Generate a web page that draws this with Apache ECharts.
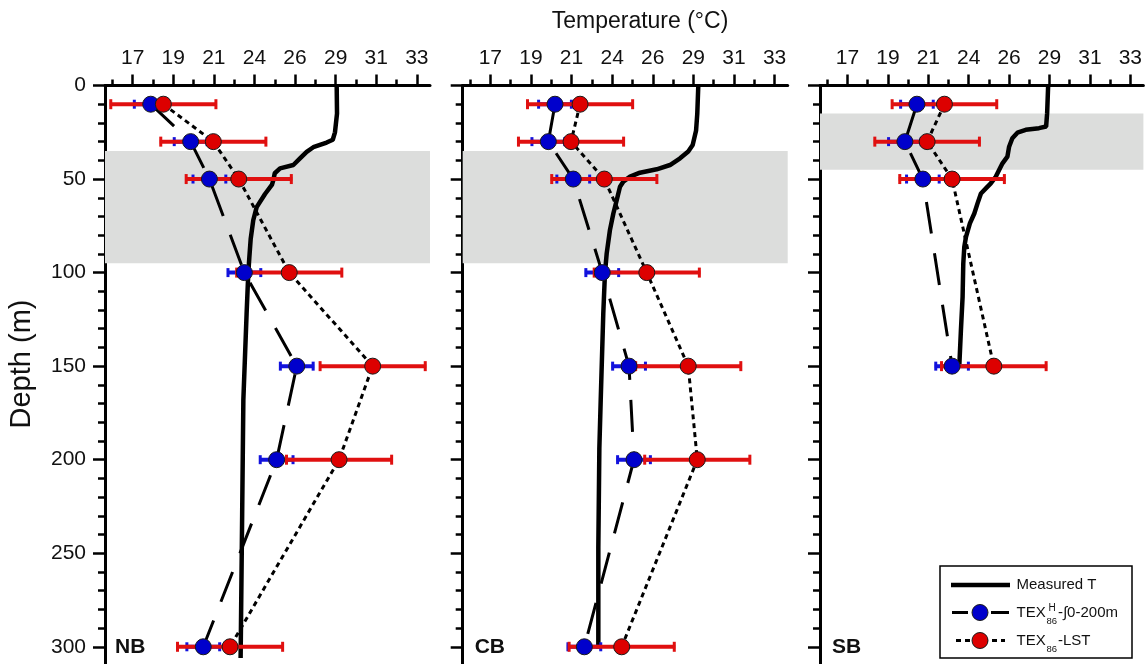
<!DOCTYPE html>
<html><head><meta charset="utf-8">
<script src="https://cdn.jsdelivr.net/npm/echarts@6/dist/echarts.min.js"></script>
<style>html,body{margin:0;padding:0;background:#fff}#c{width:1145px;height:664px}</style>
</head><body><div id="c"></div>
<script>
// ---------------- data ----------------
const depthsFull = [10, 30, 50, 100, 150, 200, 300];
const depthsSB = [10, 30, 50, 150];

const nbTexH = [17.72, 20.06, 21.16, 23.21, 26.28, 25.10, 20.80];
const nbTexHErr = [1.02, 1.02, 1.02, 1.02, 1.02, 1.02, 1.02];
const nbLst = [18.46, 21.39, 22.88, 25.84, 30.73, 28.76, 22.37];
const nbLstErr = [3.14, 3.14, 3.14, 3.14, 3.14, 3.14, 3.14];

const cbTexH = [20.45, 20.06, 21.52, 23.22, 24.79, 25.08, 22.17];
const cbTexHErr = [1.02, 1.02, 1.02, 1.02, 1.02, 1.02, 1.02];
const cbLst = [21.92, 21.39, 23.34, 25.83, 28.26, 28.79, 24.36];
const cbLstErr = [3.14, 3.14, 3.14, 3.14, 3.14, 3.14, 3.14];

const sbTexH = [20.75, 20.04, 21.10, 22.82];
const sbTexHErr = [1.02, 1.02, 1.02, 1.02];
const sbLst = [22.37, 21.35, 22.82, 25.28];
const sbLstErr = [3.14, 3.14, 3.14, 3.14];

// measured temperature profiles: [temperature, depth]
const nbMeasured = [[28.62,0],[28.64,15],[28.52,25],[28.39,29],[28.03,30.5],[27.25,33],[26.86,35.5],[26.47,39],[26.08,42.5],[25.30,44.3],[24.99,46.9],[24.91,50.5],[24.83,53],[24.42,58],[23.93,65],[23.73,72],[23.58,82],[23.50,92],[23.44,100],[23.34,122],[23.15,168],[23.08,229],[22.99,306]];
const cbMeasured = [[28.85,0],[28.79,15],[28.72,24],[28.52,31.8],[28.26,35.3],[27.78,38.9],[27.19,42.5],[26.41,44.8],[25.43,46.6],[24.85,48.7],[24.45,51.4],[24.26,54.1],[24.07,61.2],[23.87,68.4],[23.67,77.3],[23.48,89.8],[23.38,100],[23.28,122],[23.13,168],[23.05,194],[22.99,247],[22.99,301]];
const sbMeasured = [[28.48,0],[28.42,14.8],[28.36,21.9],[27.94,22.8],[27.16,23.7],[26.67,25.2],[26.37,28.2],[26.18,32.7],[26.08,38],[25.79,41.6],[25.59,45.2],[25.40,48.7],[25.10,52.3],[24.81,55],[24.52,57.7],[24.32,63],[24.13,68.4],[23.87,73.7],[23.64,80.9],[23.54,86.2],[23.48,95.2],[23.44,113],[23.34,131],[23.25,149]];

// shaded depth bands [top, bottom]
const nbBand = [35, 95];
const cbBand = [35, 95];
const sbBand = [15, 45];

// axis ticks
const xTickValues = [16.66, 19.04, 21.42, 23.80, 26.18, 28.56, 30.94, 33.32];
const xTickLabels = ['17', '19', '21', '24', '26', '29', '31', '33'];
const xMinorTickValues = [15.47, 17.85, 20.23, 22.61, 24.99, 27.37, 29.75, 32.13];
const yTickValues = [0, 50, 100, 150, 200, 250, 300];
const yTickLabels = ['0', '50', '100', '150', '200', '250', '300'];
const yMinorTickValues = [10, 20, 30, 40, 60, 70, 80, 90, 110, 120, 130, 140, 160, 170, 180, 190, 210, 220, 230, 240, 260, 270, 280, 290];
const panelNames = ['NB', 'CB', 'SB'];
const seriesNames = ['Measured T', 'TEX86H-∫0-200m', 'TEX86-LST'];

// ---------------- layout / style ----------------
const X_MIN = 15.04, X_MAX = 34.09;
const Y_MIN = 0, Y_MAX = 309.2;
const FONT = '"Liberation Sans", Arial, Helvetica, sans-serif';
const panelLeft = [105, 462.7, 820];
const PANEL_W = 325, PANEL_TOP = 85.5;
const BLUE = '#0000cc', RED = '#dd0000', BLUE_BAR = '#1212dd', RED_BAR = '#e01010', BAND = '#dcdddc';

const panels = [
  {band: nbBand, measured: nbMeasured, depths: depthsFull, texH: nbTexH, texHErr: nbTexHErr, lst: nbLst, lstErr: nbLstErr},
  {band: cbBand, measured: cbMeasured, depths: depthsFull, texH: cbTexH, texHErr: cbTexHErr, lst: cbLst, lstErr: cbLstErr},
  {band: sbBand, measured: sbMeasured, depths: depthsSB, texH: sbTexH, texHErr: sbTexHErr, lst: sbLst, lstErr: sbLstErr}
];

function nearestLabel(values, labels, v) {
  let best = 0, bd = Infinity;
  values.forEach((t, i) => { const d = Math.abs(t - v); if (d < bd) { bd = d; best = i; } });
  return labels[best];
}

function errRender(color, capH, lw) {
  return function (params, api) {
    const x = api.value(0), y = api.value(1), e = api.value(2);
    const p0 = api.coord([x - e, y]), p1 = api.coord([x + e, y]);
    return {
      type: 'group',
      children: [
        {type: 'line', shape: {x1: p0[0], y1: p0[1], x2: p1[0], y2: p1[1]}, style: {stroke: color, lineWidth: lw}},
        {type: 'line', shape: {x1: p0[0] + 1, y1: p0[1] - capH / 2, x2: p0[0] + 1, y2: p0[1] + capH / 2}, style: {stroke: color, lineWidth: 3}},
        {type: 'line', shape: {x1: p1[0] - 1, y1: p1[1] - capH / 2, x2: p1[0] - 1, y2: p1[1] + capH / 2}, style: {stroke: color, lineWidth: 3}}
      ]
    };
  };
}

function bandRender(params, api) {
  const cs = params.coordSys;
  const y0 = api.coord([api.value(0), api.value(1)])[1];
  const y1 = api.coord([api.value(0), api.value(2)])[1];
  return {type: 'rect', shape: {x: cs.x, y: y0, width: cs.width, height: y1 - y0}, style: {fill: BAND}};
}

const grids = [], xAxes = [], yAxes = [], series = [];
panels.forEach((p, k) => {
  grids.push({left: panelLeft[k], top: PANEL_TOP, width: PANEL_W, bottom: 0, containLabel: false});
  xAxes.push({
    type: 'value', gridIndex: k, position: 'top', min: X_MIN, max: X_MAX,
    axisLine: {show: true, onZero: false, lineStyle: {color: '#000', width: 3}},
    axisTick: {show: true, inside: false, length: 11, customValues: xTickValues, lineStyle: {color: '#000', width: 2.5}},
    axisLabel: {show: true, customValues: xTickValues, formatter: v => nearestLabel(xTickValues, xTickLabels, v), margin: 17, color: '#111', fontSize: 21, fontFamily: FONT},
    splitLine: {show: false}
  });
  xAxes.push({
    type: 'value', gridIndex: k, position: 'top', min: X_MIN, max: X_MAX,
    axisLine: {show: false, onZero: false},
    axisTick: {show: true, inside: false, length: 6, customValues: xMinorTickValues, lineStyle: {color: '#000', width: 2.5}},
    axisLabel: {show: false},
    splitLine: {show: false}
  });
  yAxes.push({
    type: 'value', gridIndex: k, position: 'left', inverse: true, min: Y_MIN, max: Y_MAX,
    axisLine: {show: true, onZero: false, lineStyle: {color: '#000', width: 3}},
    axisTick: {show: true, length: 12, customValues: yTickValues, lineStyle: {color: '#000', width: 2.5}},
    axisLabel: {show: k === 0, customValues: yTickValues, margin: 19, color: '#111', fontSize: 21, fontFamily: FONT,
      formatter: v => nearestLabel(yTickValues, yTickLabels, v)},
    splitLine: {show: false}
  });
  yAxes.push({
    type: 'value', gridIndex: k, position: 'left', inverse: true, min: Y_MIN, max: Y_MAX,
    axisLine: {show: false, onZero: false},
    axisTick: {show: true, length: 7, customValues: yMinorTickValues, lineStyle: {color: '#000', width: 2.5}},
    axisLabel: {show: false},
    splitLine: {show: false}
  });
  const xi = 2 * k, yi = 2 * k;
  series.push({
    type: 'custom', xAxisIndex: xi, yAxisIndex: yi, z: 1, silent: true,
    renderItem: bandRender, data: [[X_MIN, p.band[0], p.band[1]]]
  });
  series.push({
    name: seriesNames[0], type: 'line', xAxisIndex: xi, yAxisIndex: yi, z: 2,
    showSymbol: false, symbol: 'none', data: p.measured,
    lineStyle: {color: '#000', width: 4.5}
  });
  series.push({
    name: seriesNames[1], type: 'line', xAxisIndex: xi, yAxisIndex: yi, z: 3,
    showSymbol: false, symbol: 'none', data: p.depths.map((d, i) => [p.texH[i], d]),
    lineStyle: {color: '#000', width: 3, type: [32, 20]}
  });
  series.push({
    name: seriesNames[2], type: 'line', xAxisIndex: xi, yAxisIndex: yi, z: 3,
    showSymbol: false, symbol: 'none', data: p.depths.map((d, i) => [p.lst[i], d]),
    lineStyle: {color: '#000', width: 3, type: [5, 4]}
  });
  series.push({
    type: 'custom', xAxisIndex: xi, yAxisIndex: yi, z: 4, silent: true,
    renderItem: errRender(BLUE_BAR, 9, 4), data: p.depths.map((d, i) => [p.texH[i], d, p.texHErr[i]])
  });
  series.push({
    type: 'custom', xAxisIndex: xi, yAxisIndex: yi, z: 5, silent: true,
    renderItem: errRender(RED_BAR, 10, 4), data: p.depths.map((d, i) => [p.lst[i], d, p.lstErr[i]])
  });
  series.push({
    type: 'scatter', xAxisIndex: xi, yAxisIndex: yi, z: 6, symbol: 'circle', symbolSize: 16,
    itemStyle: {color: BLUE, borderColor: '#1a1a1a', borderWidth: 1, opacity: 1},
    data: p.depths.map((d, i) => [p.texH[i], d])
  });
  series.push({
    type: 'scatter', xAxisIndex: xi, yAxisIndex: yi, z: 7, symbol: 'circle', symbolSize: 16,
    itemStyle: {color: RED, borderColor: '#1a1a1a', borderWidth: 1, opacity: 1},
    data: p.depths.map((d, i) => [p.lst[i], d])
  });
});

const txt = (text, x, y, size, extra) => Object.assign({
  type: 'text', x: x, y: y, z: 100,
  style: Object.assign({text: text, fill: '#111', font: size + 'px ' + FONT, verticalAlign: 'middle'}, extra || {})
});

const graphic = [
  txt('Temperature (°C)', 640, 22, 23, {align: 'center'}),
  {type: 'text', x: 22, y: 364, rotation: Math.PI / 2, z: 100,
   style: {text: 'Depth (m)', fill: '#111', font: '29px ' + FONT, align: 'center', verticalAlign: 'middle'}},
  txt(panelNames[0], panelLeft[0] + 10, 647, 21, {font: 'bold 21px ' + FONT}),
  txt(panelNames[1], panelLeft[1] + 12, 647, 21, {font: 'bold 21px ' + FONT}),
  txt(panelNames[2], panelLeft[2] + 12, 647, 21, {font: 'bold 21px ' + FONT}),
  // legend
  {type: 'rect', z: 99, shape: {x: 940, y: 566, width: 192, height: 92}, style: {fill: '#fff', stroke: '#000', lineWidth: 1.5}},
  {type: 'line', z: 100, shape: {x1: 951, y1: 585, x2: 1010, y2: 585}, style: {stroke: '#000', lineWidth: 4.5}},
  txt(seriesNames[0], 1016.5, 585, 15),
  {type: 'line', z: 100, shape: {x1: 952, y1: 612.5, x2: 968, y2: 612.5}, style: {stroke: '#000', lineWidth: 3}},
  {type: 'line', z: 100, shape: {x1: 991, y1: 612.5, x2: 1009, y2: 612.5}, style: {stroke: '#000', lineWidth: 3}},
  {type: 'circle', z: 101, shape: {cx: 980, cy: 612.5, r: 8}, style: {fill: BLUE, stroke: '#1a1a1a', lineWidth: 1}},
  txt('TEX', 1016.5, 612.5, 15),
  txt('H', 1048.5, 608, 10),
  txt('86', 1046.5, 621, 9.5),
  txt('-∫0-200m', 1058, 612.5, 15),
  {type: 'line', z: 100, shape: {x1: 956, y1: 640.5, x2: 1005, y2: 640.5}, style: {stroke: '#000', lineWidth: 3, lineDash: [5, 4]}},
  {type: 'circle', z: 101, shape: {cx: 980, cy: 640.5, r: 8}, style: {fill: RED, stroke: '#1a1a1a', lineWidth: 1}},
  txt('TEX', 1016.5, 640.5, 15),
  txt('86', 1046.5, 649.5, 9.5),
  txt('-LST', 1058, 640.5, 15)
];

const chart = echarts.init(document.getElementById('c'), null, {renderer: 'canvas'});
chart.setOption({
  animation: false,
  backgroundColor: '#fff',
  grid: grids, xAxis: xAxes, yAxis: yAxes, series: series, graphic: graphic
});
</script></body></html>
